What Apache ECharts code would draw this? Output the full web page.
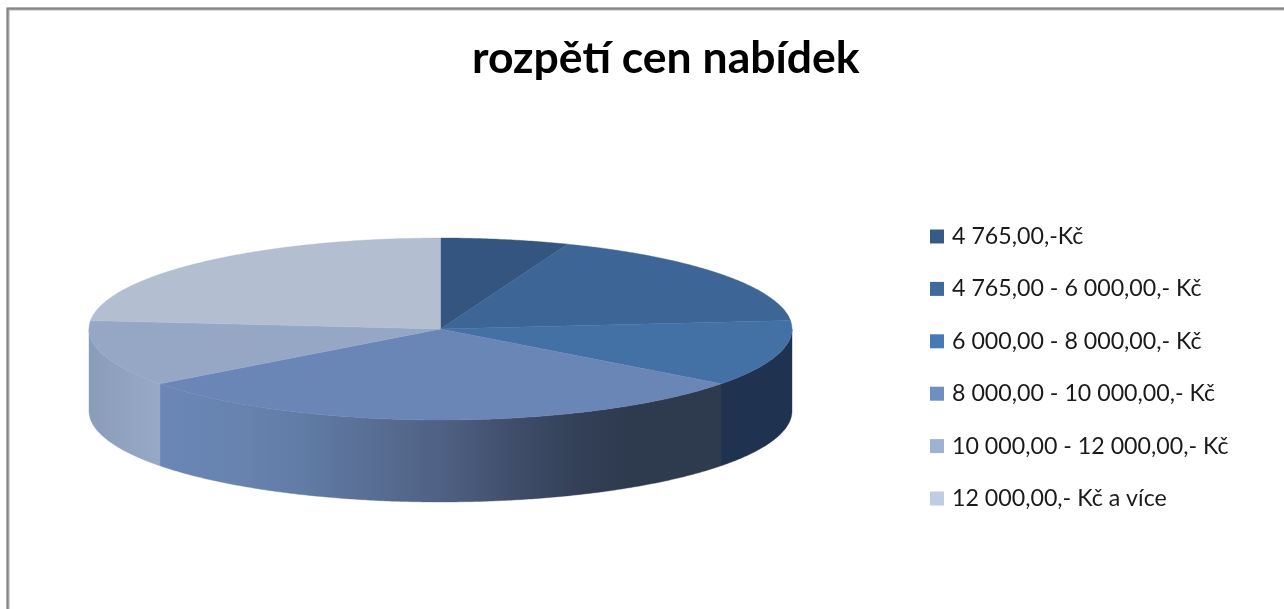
<!DOCTYPE html>
<html><head><meta charset="utf-8">
<style>html,body{margin:0;padding:0;background:#fff}#c{width:1284px;height:609px}</style>
<script src="https://cdn.jsdelivr.net/npm/echarts@6/dist/echarts.min.js"></script>
</head><body><div id="c"></div>
<script>
const titleText = 'rozpětí cen nabídek';
const categories = ['4 765,00,-Kč','4 765,00 - 6 000,00,- Kč','6 000,00 - 8 000,00,- Kč','8 000,00 - 10 000,00,- Kč','10 000,00 - 12 000,00,- Kč','12 000,00,- Kč a více'];
const values = [1,3,2,5,2,4];
const topColors = ['#33557f','#3d6596','#4371a6','#6986b6','#96a7c6','#b3bed1'];
const legendColors = ['#375a87','#3f6a9e','#4679b5','#6f8fc0','#9fb2d3','#c0cce3'];

const total = values.reduce((a,b)=>a+b,0);
const DEPTH = 82/91;
function wallFill(i, api){
  if (i===2) return '#1f3250';
  const L = api.coord([Math.sin(232.94*Math.PI/180),0])[0], R = api.coord([Math.sin(127.06*Math.PI/180),0])[0];
  if (i===3) return {type:'linear',global:true,x:L,y:0,x2:R,y2:0,colorStops:[
    {offset:0,color:'#6986b6'},{offset:.15,color:'#6783ae'},{offset:.25,color:'#617ca6'},{offset:.36,color:'#5a7096'},
    {offset:.5,color:'#4f6184'},{offset:.62,color:'#414f6c'},{offset:.75,color:'#323f56'},{offset:.84,color:'#2e3a4e'},{offset:1,color:'#2e3a4e'}]};
  if (i===4) { const X=api.coord([-1,0])[0];
    return {type:'linear',global:true,x:X,y:0,x2:L,y2:0,colorStops:[{offset:0,color:'#8b9cb9'},{offset:1,color:'#98a9c8'}]};}
  return topColors[i];
}
function renderSlice(i){
  return function(params, api){
    const v = api.value(2);
    let before = 0; for (let k=0;k<i;k++) before += values[k];
    const a0 = before/total*360, a1 = (before+v)/total*360;
    const pt = (deg,dy)=>{const t=deg*Math.PI/180; return api.coord([Math.sin(t),Math.cos(t)-(dy||0)]);};
    const children = [];
    const w0 = Math.max(a0,90), w1 = Math.min(a1,270);
    if (w1>w0){
      const pts=[];
      for(let d=w0;d<w1;d+=0.5) pts.push(pt(d));
      pts.push(pt(w1));
      for(let d=w1;d>w0;d-=0.5) pts.push(pt(d,DEPTH));
      pts.push(pt(w0,DEPTH));
      const f = wallFill(i,api);
      children.push({type:'polygon',shape:{points:pts},style:{fill:f,stroke:f,lineWidth:0.4}});
    }
    const top=[api.coord([0,0])];
    for(let d=a0;d<a1;d+=0.5) top.push(pt(d));
    top.push(pt(a1));
    children.push({type:'polygon',z2:5,shape:{points:top},style:{fill:topColors[i],stroke:topColors[i],lineWidth:0.4}});
    return {type:'group',children};
  };
}
const chart = echarts.init(document.getElementById('c'),null,{renderer:'canvas'});
chart.setOption({
  backgroundColor:'#fff',
  animation:false,
  title:{text:titleText,left:472,top:34,padding:0,textStyle:{fontFamily:'Lato',fontWeight:'bold',fontSize:44.5,color:'#000',lineHeight:50}},
  legend:{orient:'vertical',left:930,top:223,padding:0,selectedMode:false,icon:'rect',itemWidth:14,itemHeight:14,itemGap:25.4,
    data:categories.map((n,i)=>({name:n,itemStyle:{color:legendColors[i]}})),
    textStyle:{fontFamily:'Lato',fontSize:23.2,color:'#1a1a1a',lineHeight:24,padding:[3,0,0,3]}},
  grid:{left:89,width:703,top:238,height:264,containLabel:false},
  xAxis:{type:'value',show:false,min:-1,max:1},
  yAxis:{type:'value',show:false,min:-1-DEPTH,max:1},
  graphic:[
    {type:'rect',silent:true,z:-1,shape:{x:8,y:9,width:1400,height:800},style:{fill:'none',stroke:'#b4b4b4',lineWidth:3}},
    {type:'rect',silent:true,z:-1,shape:{x:7.5,y:8.5,width:1400,height:800},style:{fill:'none',stroke:'#868686',lineWidth:2}}
  ],
  series:categories.map((n,i)=>({
    name:n,type:'custom',coordinateSystem:'cartesian2d',silent:true,clip:false,
    itemStyle:{color:legendColors[i]},
    renderItem:renderSlice(i),
    encode:{x:0,y:1},
    data:[[0,0,values[i]]]
  }))
});
</script></body></html>
